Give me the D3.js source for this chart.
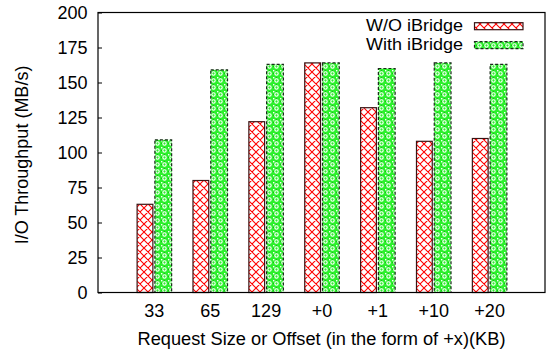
<!DOCTYPE html>
<html>
<head>
<meta charset="utf-8">
<script src="https://cdn.jsdelivr.net/npm/d3@7"></script>
<style>
  html, body { margin: 0; padding: 0; background: #fff; }
  svg { display: block; font-family: "Liberation Sans", Arial, Helvetica, sans-serif; }
</style>
</head>
<body>
<svg id="chart" width="553" height="352"></svg>
<script>
// Throughput per request size / offset, with and without iBridge
const categories = ["33", "65", "129", "+0", "+1", "+10", "+20"];
const withoutIBridge = [63, 80, 122, 164, 132, 108, 110];
const withIBridge = [109, 159, 163, 164, 160, 164, 163];
const yTicks = [0, 25, 50, 75, 100, 125, 150, 175, 200];
const seriesNames = ["W/O iBridge", "With iBridge"];

const svg = d3.select("#chart");
const plotLeft = 98, plotRight = 545, plotTop = 12.5, plotBottom = 292.5;
const fontSize = 18;

const x = d3.scaleLinear().domain([-1, categories.length]).range([plotLeft, plotRight]);
const y = d3.scaleLinear().domain([0, 200]).range([plotBottom, plotTop]);

// Fill patterns: red diamond cross-hatch, green dotted texture
const defs = svg.append("defs");
const hp = 8;
const hatch = defs.append("pattern")
  .attr("id", "hatchRed").attr("patternUnits", "userSpaceOnUse")
  .attr("width", hp).attr("height", hp);
hatch.append("rect").attr("width", hp).attr("height", hp).attr("fill", "#fff");
hatch.append("path")
  .attr("d", `M0,0L${hp},${hp}M0,${hp}L${hp},0M-1,1L1,-1M${hp - 1},${hp + 1}L${hp + 1},${hp - 1}`)
  .attr("stroke", "#ff0000").attr("stroke-width", 1.1);

const dp = 7;
const dots = defs.append("pattern")
  .attr("id", "dotGreen").attr("patternUnits", "userSpaceOnUse")
  .attr("width", dp).attr("height", dp);
dots.append("rect").attr("width", dp).attr("height", dp).attr("fill", "#2cf02c");
dots.append("circle").attr("cx", dp / 2).attr("cy", dp / 2).attr("r", 1.7)
  .attr("fill", "none").attr("stroke", "#ffffff").attr("stroke-width", 1.1);
dots.append("rect").attr("x", 0).attr("y", 0).attr("width", 1.4).attr("height", 1.4).attr("fill", "#ffffff");
dots.append("rect").attr("x", 3).attr("y", 0).attr("width", 1).attr("height", 1).attr("fill", "#18b818");
dots.append("rect").attr("x", 0).attr("y", 3).attr("width", 1).attr("height", 1).attr("fill", "#18b818");

const bw = x(0.3) - x(0);

// Bars: W/O iBridge
svg.append("g").selectAll("rect").data(withoutIBridge).join("rect")
  .attr("x", (d, i) => x(i) - bw)
  .attr("y", d => y(d))
  .attr("width", bw - 1)
  .attr("height", d => plotBottom - y(d))
  .attr("fill", "url(#hatchRed)")
  .attr("stroke", "#3a1414").attr("stroke-width", 1.2);

// Bars: With iBridge
svg.append("g").selectAll("rect").data(withIBridge).join("rect")
  .attr("x", (d, i) => x(i) + 1)
  .attr("y", d => y(d))
  .attr("width", bw)
  .attr("height", d => plotBottom - y(d))
  .attr("fill", "url(#dotGreen)")
  .attr("stroke", "#1a2a1a").attr("stroke-width", 1.2)
  .attr("stroke-dasharray", "3,2");

// Frame
svg.append("rect")
  .attr("x", plotLeft).attr("y", plotTop)
  .attr("width", plotRight - plotLeft).attr("height", plotBottom - plotTop)
  .attr("fill", "none").attr("stroke", "#000").attr("stroke-width", 1.2);

// Y axis with inward ticks
const yAxis = svg.append("g").attr("transform", `translate(${plotLeft},0)`)
  .call(d3.axisLeft(y).tickValues(yTicks).tickSizeInner(-4).tickSizeOuter(0).tickPadding(10.5));
yAxis.select(".domain").remove();
yAxis.selectAll("line").attr("stroke", "#000");
yAxis.selectAll("text").attr("font-size", fontSize).attr("font-family", null).attr("fill", "#000");

// X axis labels
const xAxis = svg.append("g").attr("transform", `translate(0,${plotBottom})`)
  .call(d3.axisBottom(x).tickValues(d3.range(categories.length))
    .tickFormat(i => categories[i]).tickSize(0).tickPadding(11.5));
xAxis.select(".domain").remove();
xAxis.selectAll("text").attr("font-size", fontSize).attr("font-family", null).attr("fill", "#000");

// Axis titles
svg.append("text")
  .attr("x", (plotLeft + plotRight) / 2).attr("y", 344.5)
  .attr("text-anchor", "middle").attr("font-size", fontSize)
  .attr("textLength", 368).attr("lengthAdjust", "spacingAndGlyphs")
  .text("Request Size or Offset (in the form of +x)(KB)");
svg.append("text")
  .attr("transform", "translate(28,155) rotate(-90)")
  .attr("text-anchor", "middle").attr("font-size", fontSize)
  .text("I/O Throughput (MB/s)");

// Legend
const legend = svg.append("g");
const legendFills = ["url(#hatchRed)", "url(#dotGreen)"];
seriesNames.forEach((name, k) => {
  const base = 30.5 + k * 19;
  legend.append("text")
    .attr("x", 463).attr("y", base).attr("text-anchor", "end")
    .attr("font-size", 17).attr("textLength", 97).attr("lengthAdjust", "spacingAndGlyphs")
    .text(name);
  legend.append("rect")
    .attr("x", 474.5).attr("y", base - 7.8).attr("width", 48.5).attr("height", 7)
    .attr("fill", legendFills[k])
    .attr("stroke", k === 0 ? "#3a1414" : "#1a2a1a").attr("stroke-width", 1.2)
    .attr("stroke-dasharray", k === 0 ? null : "3,2");
});
</script>
</body>
</html>
